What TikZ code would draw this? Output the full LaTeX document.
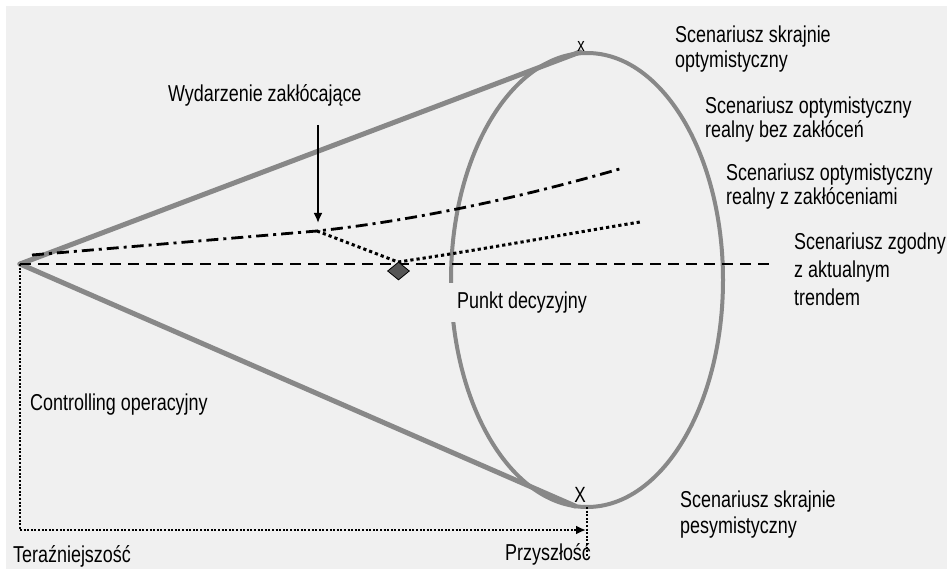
\documentclass[tikz,border=0pt]{standalone}
\usepackage{fontspec}
\setmainfont{Liberation Sans}[FakeStretch=0.78]
\usetikzlibrary{arrows.meta,shapes.geometric}
\definecolor{paper}{HTML}{F0F0F0}
\definecolor{conegray}{HTML}{888888}
\definecolor{diamondgray}{HTML}{555555}
\begin{document}
\begin{tikzpicture}[x=1pt,y=-1pt,
  lbl/.style={inner sep=0pt,anchor=base west,align=left,font=\fontsize{23}{25}\selectfont},
  cone/.style={draw=conegray,line width=5pt,line cap=round},
  rim/.style={draw=conegray,line width=4pt},
  trend/.style={line width=2.4pt,dash pattern=on 11pt off 7pt},
  dashdot/.style={line width=2.8pt,dash pattern=on 12pt off 5pt on 3pt off 5pt},
  dots/.style={line width=3pt,dash pattern=on 3.2pt off 3pt},
  axis/.style={line width=2.6pt,dash pattern=on 2pt off 1.6pt},
  tip/.style={-{Latex[length=10pt,width=9pt]}}]
% canvas
\useasboundingbox (0,0) rectangle (947,569);
\fill[white] (0,0) rectangle (947,569);
\fill[paper] (6,6) rectangle (947,569);

% key points
\coordinate (apex) at (20,264);
\coordinate (top) at (580,52);
\coordinate (bottom) at (575,506);
\coordinate (trendend) at (770,264);
\coordinate (event) at (317,231);
\coordinate (optend) at (623,168);
\coordinate (disturbend) at (640,222);
\coordinate (arrowstart) at (318,125);
\coordinate (arrowend) at (318,223);
\coordinate (corner) at (20,530);
\coordinate (future) at (586,530);
\coordinate (futuretop) at (587,507);
\coordinate (futurebot) at (587,556);

% cone
\draw[cone] (apex) -- (top);
\draw[cone] (apex) -- (bottom);
\draw[rim] (587,280) ellipse [x radius=136pt, y radius=227pt];

% scenario paths
\draw[trend] (apex) -- (trendend);
\draw[dashdot] (32,255) -- (event) .. controls (420,220) and (530,195) .. (optend);
\draw[dots] (event) -- (398,262) .. controls (480,250) and (560,235) .. (disturbend);
\node[draw=black,fill=diamondgray,line width=0.8pt,shape=diamond,inner sep=0pt,
      minimum width=22pt,minimum height=18pt] (decision) at (398.5,271) {};

% disturbing event
\draw[line width=2pt,tip] (arrowstart) -- (arrowend);

% time axis
\draw[axis] (apex) -- (corner);
\draw[axis,tip] (corner) -- (future);
\draw[axis] (futuretop) -- (futurebot);

% labels (multi-line labels are anchored at the baseline of their last line)
\node[lbl] (event label) at (168,102) {Wydarzenie zakłócające};
\node[lbl] (s1) at (675,68) {Scenariusz skrajnie\\optymistyczny};
\node[lbl,font=\fontsize{23}{24}\selectfont] (s2) at (705,138) {Scenariusz optymistyczny\\realny bez zakłóceń};
\node[lbl,font=\fontsize{23}{24}\selectfont] (s3) at (726,205) {Scenariusz optymistyczny\\realny z zakłóceniami};
\node[lbl,font=\fontsize{23}{27.5}\selectfont] (s4) at (794,305) {Scenariusz zgodny\\z aktualnym\\trendem};
\node[lbl,font=\fontsize{23}{26}\selectfont] (s5) at (680,533) {Scenariusz skrajnie\\pesymistyczny};
\node[lbl] (ctrl) at (30,410) {Controlling operacyjny};
\node[lbl] (now) at (13,562) {Teraźniejszość};
\node[lbl] (later) at (505,560) {Przyszłość};
\node[lbl,fill=paper,inner xsep=9pt,text height=25pt,text depth=14pt] (punkt) at (448,308) {Punkt decyzyjny};
\node[inner sep=0pt,font=\fontsize{19}{19}\selectfont] (xtop) at (581,46) {x};
\node[inner sep=0pt,font=\fontsize{22}{22}\selectfont] (xbot) at (580,495) {X};
\end{tikzpicture}
\end{document}
